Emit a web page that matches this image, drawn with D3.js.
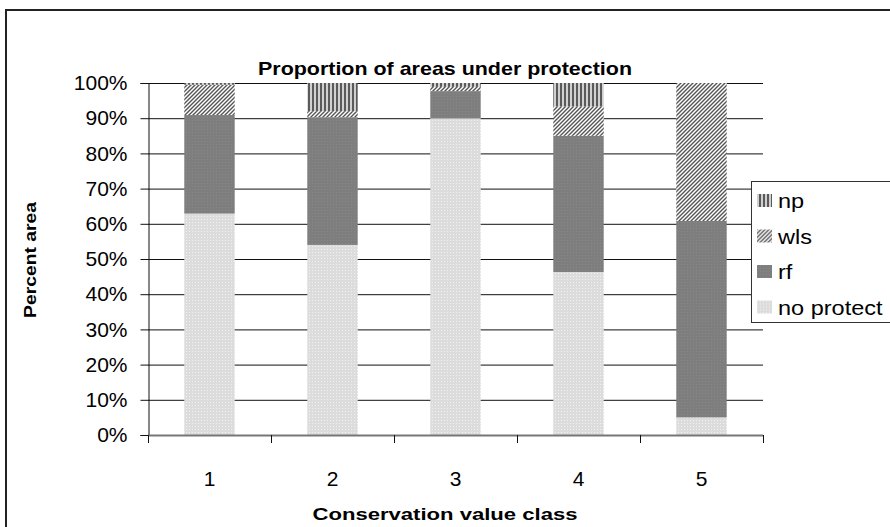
<!DOCTYPE html>
<html>
<head>
<meta charset="utf-8">
<script src="https://cdn.jsdelivr.net/npm/d3@7"></script>
<style>
  body { margin: 0; background: #fff; }
  svg text { font-family: "Liberation Sans", Arial, sans-serif; }
</style>
</head>
<body>
<script>
var classes = ["1", "2", "3", "4", "5"];
var seriesNames = ["no protect", "rf", "wls", "np"];
var noProtect = [62.9, 54.0, 90.0, 46.3, 5.0];
var rf = [28.0, 36.3, 7.7, 38.7, 55.8];
var wls = [8.6, 1.7, 1.2, 8.3, 39.2];
var np = [0.5, 8.0, 1.1, 6.7, 0];
var yTicks = [0, 10, 20, 30, 40, 50, 60, 70, 80, 90, 100];

var width = 890, height = 527;
var margin = { top: 83, right: 127, bottom: 92, left: 148 };

var svg = d3.select("body").append("svg")
  .attr("width", width)
  .attr("height", height);

var defs = svg.append("defs");

// np: vertical stripes
var pNp = defs.append("pattern").attr("id", "p-np")
  .attr("patternUnits", "userSpaceOnUse").attr("width", 4).attr("height", 4);
pNp.append("rect").attr("width", 4).attr("height", 4).attr("fill", "#d0d0d0");
pNp.append("rect").attr("width", 2).attr("height", 4).attr("fill", "#5a5a5a");

// wls: diagonal hatch
var pWls = defs.append("pattern").attr("id", "p-wls")
  .attr("patternUnits", "userSpaceOnUse").attr("width", 4).attr("height", 4);
pWls.append("rect").attr("width", 4).attr("height", 4).attr("fill", "#fff");
pWls.append("path").attr("d", "M-1,1 L1,-1 M0,4 L4,0 M3,5 L5,3")
  .attr("stroke", "#555").attr("stroke-width", 1.4);

// rf: dark gray with faint texture
var pRf = defs.append("pattern").attr("id", "p-rf")
  .attr("patternUnits", "userSpaceOnUse").attr("width", 3).attr("height", 3);
pRf.append("rect").attr("width", 3).attr("height", 3).attr("fill", "#7e7e7e");
pRf.append("rect").attr("width", 1).attr("height", 1).attr("fill", "#888");

// no protect: light dotted
var pNo = defs.append("pattern").attr("id", "p-no")
  .attr("patternUnits", "userSpaceOnUse").attr("width", 3).attr("height", 3);
pNo.append("rect").attr("width", 3).attr("height", 3).attr("fill", "#dcdcdc");
pNo.append("rect").attr("width", 1).attr("height", 1).attr("fill", "#f2f2f2");

var fills = { "no protect": "url(#p-no)", "rf": "url(#p-rf)", "wls": "url(#p-wls)", "np": "url(#p-np)" };

// outer frame
svg.append("rect")
  .attr("x", 6).attr("y", 10)
  .attr("width", 900).attr("height", 530)
  .attr("fill", "none").attr("stroke", "#222").attr("stroke-width", 2);

var x = d3.scaleBand().domain(classes)
  .range([margin.left, width - margin.right])
  .paddingInner(0.59).paddingOuter(0.295);

var y = d3.scaleLinear().domain([0, 100])
  .range([height - margin.bottom, margin.top]);

// gridlines
svg.append("g").selectAll("line")
  .data(yTicks.slice(1))
  .enter().append("line")
  .attr("x1", margin.left).attr("x2", width - margin.right)
  .attr("y1", d => y(d) + 0.5).attr("y2", d => y(d) + 0.5)
  .attr("stroke", "#111").attr("stroke-width", 1);

// stacked data
var table = classes.map(function (c, i) {
  return { cls: c, "no protect": noProtect[i], "rf": rf[i], "wls": wls[i], "np": np[i] };
});
var stack = d3.stack().keys(seriesNames)(table);

svg.append("g").selectAll("g")
  .data(stack)
  .enter().append("g")
  .attr("fill", d => fills[d.key])
  .selectAll("rect")
  .data(d => d)
  .enter().append("rect")
  .attr("x", d => x(d.data.cls))
  .attr("width", x.bandwidth())
  .attr("y", d => y(d[1]))
  .attr("height", d => y(d[0]) - y(d[1]));

// y axis
var yAxis = d3.axisLeft(y).tickValues(yTicks)
  .tickFormat(d => d + "%").tickSize(8).tickPadding(13);
var gy = svg.append("g")
  .attr("transform", "translate(" + (margin.left + 0.5) + ",0)")
  .call(yAxis);
gy.select(".domain").attr("stroke", "#111");
gy.selectAll(".tick line").attr("stroke", "#111");
gy.selectAll(".tick text")
  .attr("font-size", 21).attr("fill", "#000")
  .style("font-family", "Liberation Sans, Arial, sans-serif");

// x axis
var x0 = height - margin.bottom;
var gx = svg.append("g");
gx.append("line")
  .attr("x1", margin.left).attr("x2", width - margin.right)
  .attr("y1", x0 + 0.5).attr("y2", x0 + 0.5)
  .attr("stroke", "#777").attr("stroke-width", 2);
var step = x.step();
gx.selectAll("line.tk")
  .data(d3.range(classes.length + 1))
  .enter().append("line").attr("class", "tk")
  .attr("x1", d => margin.left + 0.5 + d * step)
  .attr("x2", d => margin.left + 0.5 + d * step)
  .attr("y1", x0).attr("y2", x0 + 8)
  .attr("stroke", "#111");
gx.selectAll("text")
  .data(classes)
  .enter().append("text")
  .attr("x", d => x(d) + x.bandwidth() / 2)
  .attr("y", x0 + 51)
  .attr("text-anchor", "middle")
  .attr("font-size", 21)
  .text(d => d);

// titles
svg.append("text")
  .attr("x", 445).attr("y", 75)
  .attr("text-anchor", "middle")
  .attr("font-size", 19).attr("font-weight", "bold")
  .attr("textLength", 374).attr("lengthAdjust", "spacingAndGlyphs")
  .text("Proportion of areas under protection");

svg.append("text")
  .attr("x", 445).attr("y", 520)
  .attr("text-anchor", "middle")
  .attr("font-size", 17).attr("font-weight", "bold")
  .attr("textLength", 265).attr("lengthAdjust", "spacingAndGlyphs")
  .text("Conservation value class");

svg.append("text")
  .attr("transform", "translate(36,260) rotate(-90)")
  .attr("text-anchor", "middle")
  .attr("font-size", 17).attr("font-weight", "bold")
  .attr("textLength", 116).attr("lengthAdjust", "spacingAndGlyphs")
  .text("Percent area");

// legend
var legend = svg.append("g").attr("transform", "translate(751,181)");
legend.append("rect")
  .attr("x", 0.5).attr("y", 0.5)
  .attr("width", 160).attr("height", 141)
  .attr("fill", "#fff").attr("stroke", "#333").attr("stroke-width", 1);
var legendOrder = ["np", "wls", "rf", "no protect"];
var li = legend.selectAll("g.item")
  .data(legendOrder)
  .enter().append("g").attr("class", "item")
  .attr("transform", (d, i) => "translate(0," + (19 + i * 35.5) + ")");
li.append("rect")
  .attr("x", 6).attr("y", -6)
  .attr("width", 15).attr("height", 13)
  .attr("fill", d => fills[d]);
li.append("text")
  .attr("transform", "translate(27,8) scale(1.12,1)")
  .attr("font-size", 21)
  .text(d => d);
</script>
</body>
</html>
